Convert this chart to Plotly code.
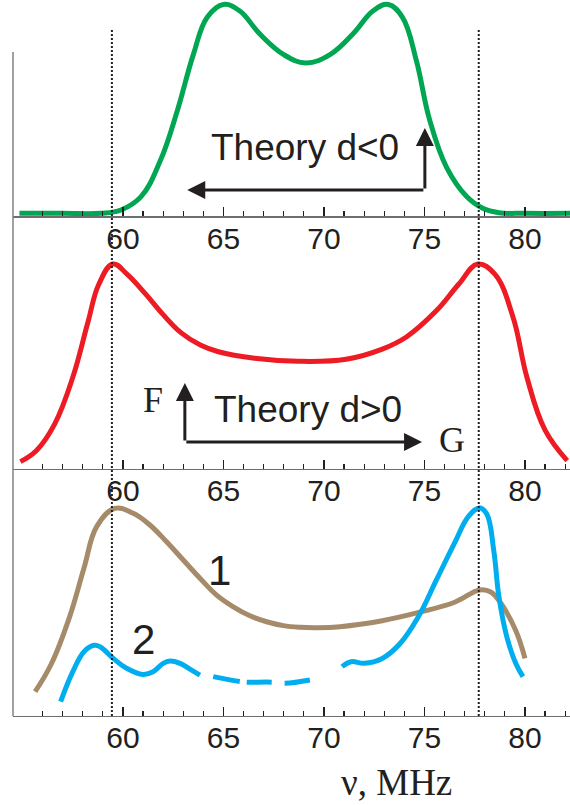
import plotly.graph_objects as go

# ---------------- data ----------------
# Panel 1: Theory d<0 (green)
green_x = [54.85, 57.0, 58.9, 59.9, 60.9, 61.85, 62.7, 63.5, 64.2, 65.0, 65.8, 66.8, 68.0, 69.1,
           70.3, 71.45, 72.45, 73.2, 73.9, 74.6, 75.25, 76.1, 77.1, 77.9, 78.7, 80.0, 82.3]
green_y = [0.0, 0.0, 0.0, 0.016, 0.08, 0.25, 0.49, 0.76, 0.94, 1.0, 0.97, 0.86, 0.76, 0.72,
           0.76, 0.86, 0.97, 1.0, 0.94, 0.73, 0.45, 0.22, 0.08, 0.024, 0.003, 0.0, 0.0]

# Panel 2: Theory d>0 (red)
red_x = [54.9, 55.7, 56.6, 57.5, 58.25, 58.8, 59.5, 60.2, 61.1, 62.0, 62.9, 63.85, 64.75, 66.55,
         68.7, 71.1, 72.9, 74.1, 75.6, 76.7, 77.65, 78.5, 79.4, 80.1, 81.0, 82.1]
red_y = [0.025, 0.08, 0.21, 0.44, 0.71, 0.90, 1.0, 0.95, 0.855, 0.75, 0.66, 0.60, 0.567, 0.535,
         0.52, 0.53, 0.58, 0.64, 0.77, 0.90, 1.0, 0.95, 0.74, 0.44, 0.18, 0.03]

# Panel 3: experiment, curve 1 (brown)
c1_x = [55.63, 56.44, 57.35, 58.07, 58.7, 59.6, 60.51, 61.34, 62.17, 63.0, 63.83, 64.66, 65.49,
        66.32, 67.15, 67.98, 68.8, 69.64, 70.8, 72.9, 74.7, 76.5, 77.75, 78.3, 78.8, 79.55, 80.0]
c1_y = [0.114, 0.25, 0.48, 0.72, 0.92, 1.008, 0.984, 0.927, 0.845, 0.756, 0.667, 0.585, 0.528,
        0.484, 0.455, 0.436, 0.428, 0.426, 0.431, 0.46, 0.50, 0.55, 0.61, 0.60, 0.545, 0.41, 0.276]

# Panel 3: curve 2 (blue) – solid start, dashed middle, solid end
c2a_x = [56.9, 57.5, 58.07, 58.57, 58.86, 59.52, 60.18, 61.0, 61.5, 62.0, 62.34, 62.84, 63.33, 63.83]
c2a_y = [0.065, 0.21, 0.31, 0.34, 0.333, 0.276, 0.228, 0.198, 0.211, 0.252, 0.263, 0.252, 0.224, 0.195]
c2b_x = [64.49, 65.82, 66.15, 67.4, 68.06, 69.3]
c2b_y = [0.187, 0.163, 0.16, 0.16, 0.155, 0.171]
c2c_x = [70.9, 71.35, 72.0, 72.9, 73.8, 74.7, 75.6, 76.5, 77.2, 77.75, 78.1, 78.45, 78.7,
         79.1, 79.55, 79.9]
c2c_y = [0.236, 0.26, 0.252, 0.276, 0.35, 0.48, 0.66, 0.84, 0.97, 1.01, 0.98, 0.80, 0.58,
         0.38, 0.25, 0.187]

major_ticks = [60, 65, 70, 75, 80]
minor_ticks = [56, 57, 58, 59, 61, 62, 63, 64, 66, 67, 68, 69, 71, 72, 73, 74, 76, 77, 78, 79, 81, 82]
marker_lines = [59.45, 77.7]

# ---------------- styling ----------------
W, H = 570, 805
GREEN = "#00A651"
RED = "#ED1C24"
BROWN = "#A68B6B"
BLUE = "#00AEEF"
INK = "#231F20"
SANS = "Liberation Sans, Arial, sans-serif"
SERIF = "Liberation Serif, Times New Roman, serif"
XRANGE = [54.53, 82.24]
LW = 5


def py(pix):
    return 1 - pix / H


def curve(x, y, xa, ya, color, dash=None):
    return go.Scatter(x=x, y=y, mode="lines", xaxis=xa, yaxis=ya, hoverinfo="skip",
                      line=dict(color=color, width=LW, shape="spline", smoothing=1.15,
                                dash=dash))


fig = go.Figure()
fig.add_trace(curve(green_x, green_y, "x", "y", GREEN))
fig.add_trace(curve(red_x, red_y, "x2", "y2", RED))
fig.add_trace(curve(c1_x, c1_y, "x3", "y3", BROWN))
fig.add_trace(curve(c2a_x, c2a_y, "x3", "y3", BLUE))
fig.add_trace(curve(c2b_x, c2b_y, "x3", "y3", BLUE, dash="27px,7px,25px,13px,26px,40px"))
fig.add_trace(curve(c2c_x, c2c_y, "x3", "y3", BLUE))


def xaxis(anchor):
    return dict(domain=[13 / W, 1], range=XRANGE, anchor=anchor,
                showline=True, linecolor="#6D6E71", linewidth=1.5,
                showgrid=False, zeroline=False, fixedrange=True,
                tickmode="array", tickvals=major_ticks, ticktext=[str(v) for v in major_ticks],
                ticks="inside", ticklen=9, tickwidth=1.3, tickcolor=INK,
                ticklabelstandoff=-5,
                tickfont=dict(family=SANS, size=30, color=INK),
                minor=dict(tickmode="array", tickvals=minor_ticks, ticks="inside",
                           ticklen=5, tickwidth=1.2, tickcolor=INK, showgrid=False))


def yaxis(dom_px, rng):
    return dict(domain=[py(dom_px[0]), py(dom_px[1])], range=rng, visible=False,
                showgrid=False, zeroline=False, fixedrange=True)


fig.update_layout(
    width=W, height=H, margin=dict(l=0, r=0, t=0, b=0),
    paper_bgcolor="white", plot_bgcolor="rgba(0,0,0,0)", showlegend=False,
    xaxis=xaxis("y"), xaxis2=xaxis("y2"), xaxis3=xaxis("y3"),
    yaxis=yaxis([216, 0], [-0.0129, 1.0216]),
    yaxis2=yaxis([468.7, 250], [-0.0099, 1.069]),
    yaxis3=yaxis([715.7, 490], [-0.0034, 1.0976]),
)

shapes = []
# left vertical frame line
shapes.append(dict(type="line", xref="paper", yref="paper", x0=13 / W, x1=13 / W,
                   y0=py(716), y1=py(52), line=dict(color="#808285", width=1.5)))
# dotted marker lines
for xv in marker_lines:
    shapes.append(dict(type="line", xref="x3", yref="paper", x0=xv, x1=xv,
                       y0=py(716), y1=py(30), layer="above",
                       line=dict(color=INK, width=2, dash="2px,2px")))
fig.update_layout(shapes=shapes)

ann = []


def arrow(xr, yr, tip, tail):
    return dict(xref=xr, yref=yr, axref=xr, ayref=yr, x=tip[0], y=tip[1], ax=tail[0], ay=tail[1],
                text="", showarrow=True, arrowhead=2, arrowsize=1.2, arrowwidth=3,
                arrowcolor=INK, standoff=0, startstandoff=0)


def label(xr, yr, x, y, text, family, size):
    return dict(xref=xr, yref=yr, x=x, y=y, text=text, showarrow=False,
                xanchor="center", yanchor="middle",
                font=dict(family=family, size=size, color=INK))


# panel 1 arrows (L-shape)
ann.append(arrow("x", "y", (75.02, 0.408), (75.02, 0.112)))
ann.append(arrow("x", "y", (63.2, 0.112), (75.02, 0.112)))
# panel 2 arrows
ann.append(arrow("x2", "y2", (63.08, 0.413), (63.08, 0.122)))
ann.append(arrow("x2", "y2", (74.88, 0.122), (63.08, 0.122)))

ann.append(label("x", "y", 69.05, 0.313, "Theory d<0", SANS, 37))
ann.append(label("x2", "y2", 69.2, 0.28, "Theory d>0", SANS, 37))
ann.append(label("x2", "y2", 61.5, 0.33, "F", SERIF, 36))
ann.append(label("x2", "y2", 76.37, 0.13, "G", SERIF, 36))
ann.append(label("x3", "y3", 64.78, 0.707, "1", SANS, 42))
ann.append(label("x3", "y3", 61.04, 0.37, "2", SANS, 42))
ann.append(label("paper", "paper", 397 / W, py(782), "ν, MHz", SERIF, 37))
fig.update_layout(annotations=ann)

fig.write_html("out.html", config={"displayModeBar": False, "staticPlot": True},
               post_script="document.body.style.margin='0';")
